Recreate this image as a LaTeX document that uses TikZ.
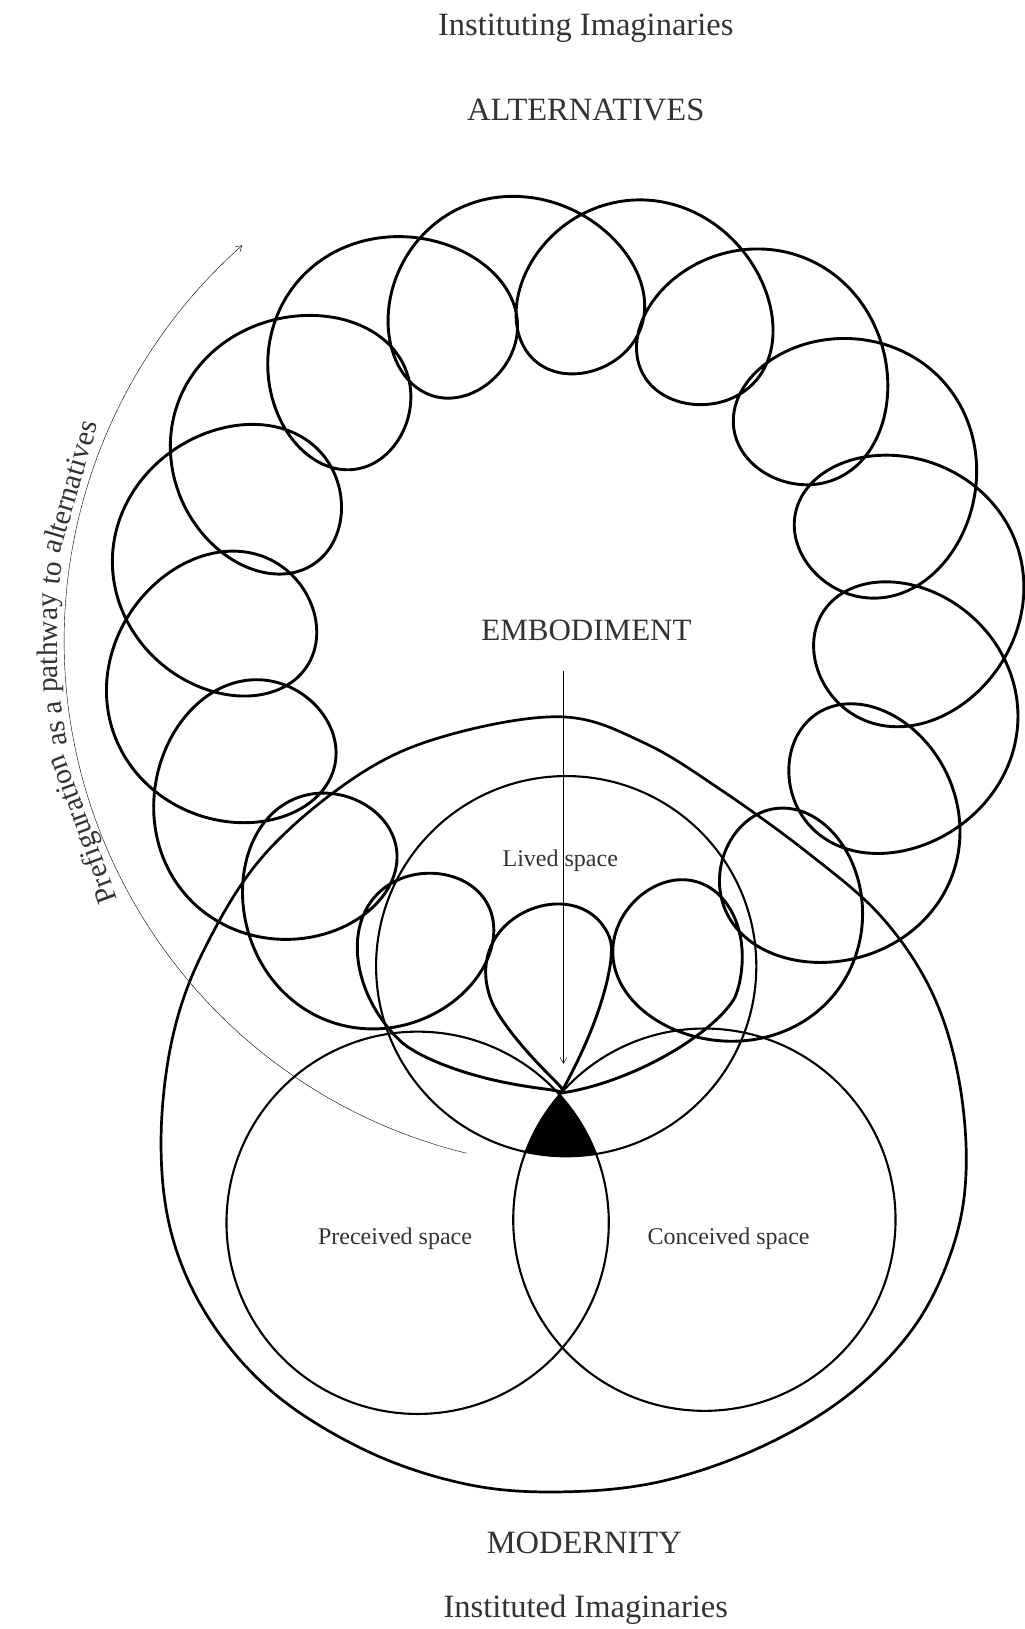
\documentclass[tikz,border=0pt]{standalone}
\usepackage{fontspec}
\setmainfont{Liberation Serif}
\usetikzlibrary{arrows.meta}
\definecolor{txt}{HTML}{333333}
\definecolor{thin}{HTML}{3c3c3c}
\tikzset{
  loopline/.style={line width=2.9pt, line cap=round, line join=round, black},
  bigline/.style={line width=2.7pt, black},
  circline/.style={line width=2.1pt, black},
  arrowline/.style={line width=1.25pt, thin, -{Straight Barb[length=6pt,width=7pt]}},
  bigtxt/.style={anchor=base, inner sep=0pt, text=txt, font=\fontsize{32.5}{39}\selectfont},
  midtxt/.style={anchor=base, inner sep=0pt, text=txt, font=\fontsize{31}{37}\selectfont},
  smalltxt/.style={anchor=base, inner sep=0pt, text=txt, font=\fontsize{24}{29}\selectfont},
  arctxt/.style={anchor=base, inner sep=0pt, text=txt, font=\fontsize{29.5}{35}\selectfont},
  declare function={
    ringth(\t)=-98.1+(\t+48.7*sin(\t+45))/16;
    ringru(\a)=78+8*cos(2*\a);
    ringrw(\a)=82+4*cos(2*\a);
    ringrho(\t,\a)=325+ringru(\a)*cos(\t)+38*((1+cos(\t+30))/2)^2;
    rawx(\t)=544+ringrho(\t,ringth(\t))*cos(ringth(\t))-ringrw(ringth(\t))*sin(\t)*sin(ringth(\t));
    rawy(\t)=615+ringrho(\t,ringth(\t))*sin(ringth(\t))+ringrw(ringth(\t))*sin(\t)*cos(ringth(\t));
    pinch(\t)=max(0,1-((\t-2880)/75)^2)^2+max(0,1-((\t-3185)/75)^2)^2;
    ringx(\t)=rawx(\t)+pinch(\t)*(541-rawx(\t));
    ringy(\t)=rawy(\t)+pinch(\t)*(1052-rawy(\t));
  }
}
\begin{document}
\begin{tikzpicture}[x=1.0385pt, y=-1.0385pt]
\useasboundingbox[fill=white] (0,0) rectangle (986,1568);

% texts
\node[bigtxt] (instituting) at (563.8,33.7) {Instituting Imaginaries};
\node[bigtxt] (alternatives) at (563.8,115.6) {ALTERNATIVES};
\node[midtxt] (embodiment) at (564.5,616.3) {EMBODIMENT};
\node[smalltxt] (lived) at (539.3,834.5) {Lived space};
\node[smalltxt] (perceived) at (380.2,1198.2) {Preceived space};
\node[smalltxt] (conceived) at (701.3,1198.2) {Conceived space};
\node[bigtxt] (modernity) at (562.4,1495.7) {MODERNITY};
\node[bigtxt] (instituted) at (563.8,1557.3) {Instituted Imaginaries};

% curved label, word by word along the arc (centre (570,616), radius 515)
\node[arctxt, rotate=110.41] (w1) at (87.3,795.6) {Prefiguration};
\node[arctxt, rotate=99.97]  (w2) at (62.8,705.2) {as};
\node[arctxt, rotate=97.16]  (w3) at (59.0,680.2) {a};
\node[arctxt, rotate=90.31]  (w4) at (55.0,618.8) {pathway};
\node[arctxt, rotate=82.94]  (w5) at (58.9,552.7) {to};
\node[arctxt, rotate=73.63]  (w6) at (75.9,470.9) {alternatives};

% black triangle: intersection of the three spaces
\begin{scope}
  \clip (545,930) circle[radius=183];
  \clip (402,1177) circle[radius=184];
  \fill[black] (678,1174) circle[radius=184];
\end{scope}

% outer shape (modernity)
\draw[bigline] plot[smooth cycle, tension=0.6] coordinates {
 (541,690) (620,715) (695,761) (779,822) (848,882) (896,953) (922,1034)
 (930,1125) (917,1201) (880,1277) (816,1343) (732,1393) (636,1426)
 (541,1436) (451,1429) (356,1398) (266,1343) (203,1272) (166,1191)
 (155,1100) (166,999) (197,913) (255,822) (345,746) (430,708)};

% three spaces
\draw[circline] (545,930) circle[radius=183];
\draw[circline] (402,1177) circle[radius=184];
\draw[circline] (678,1174) circle[radius=184];

% ring of loops
\draw[loopline] plot[domain=0:5760, samples=961, smooth, variable=\t] ({ringx(\t)},{ringy(\t)});

% arrows
\coordinate (vtop) at (542.4,645.8);
\coordinate (vbot) at (542.4,1023.9);
\draw[arrowline] (vtop) -- (vbot);
\coordinate (arcS) at (449,1110);
\draw[arrowline] (arcS) arc[start angle=103.76, end angle=228.5, radius=508];
\end{tikzpicture}
\end{document}
